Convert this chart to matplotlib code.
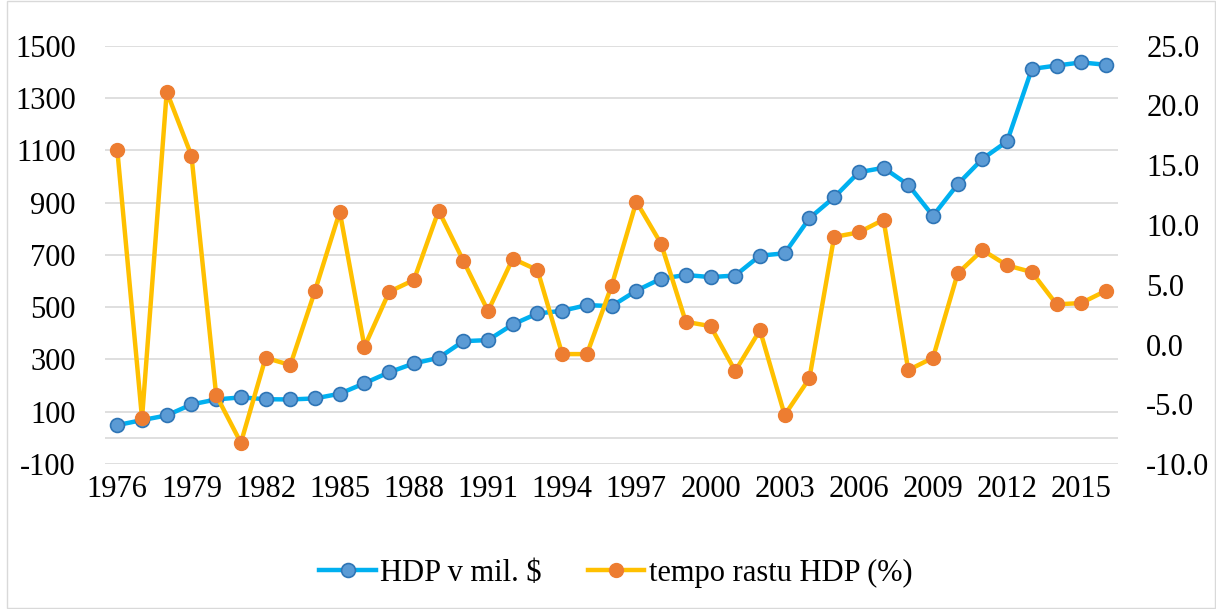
import matplotlib
matplotlib.use("Agg")
import matplotlib.pyplot as plt
from matplotlib.patches import Rectangle

years = list(range(1976, 2017))
hdp = [49, 68, 86, 128, 147, 155, 148, 147, 151, 169,
       209, 251, 285, 306, 370, 374, 434, 476, 486, 508,
       504, 563, 609, 623, 615, 621, 697, 706, 840, 920,
       1016, 1033, 968, 849, 970, 1067, 1134, 1411, 1424, 1436,
       1427]
tempo = [16.27, -6.18, 21.15, 15.8, -4.23, -8.22, -1.11, -1.72, 4.5, 11.11,
         -0.19, 4.41, 5.4, 11.2, 7.01, 2.8, 7.18, 6.23, -0.8, -0.8,
         4.92, 11.95, 8.43, 1.9, 1.54, -2.22, 1.21, -5.9, -2.83, 9.0,
         9.38, 10.44, -2.14, -1.11, 5.95, 7.9, 6.62, 6.06, 3.36, 3.47,
         4.5]
left_ticks = [-100, 100, 300, 500, 700, 900, 1100, 1300, 1500]
right_ticks = [-10, -5, 0, 5, 10, 15, 20, 25]
xtick_years = list(range(1976, 2017, 3))
labels = ["HDP v mil. $", "tempo rastu HDP (%)"]

plt.rcParams['font.family'] = ['Liberation Serif', 'DejaVu Serif']

fig = plt.figure(figsize=(12.16, 6.09), dpi=100)
fig.patches.append(Rectangle((0.006, 0.001), 0.993, 0.997, transform=fig.transFigure,
                             fill=False, edgecolor='#D9D9D9', linewidth=1))
ax = fig.add_axes([0.0863, 0.238, 0.8334, 0.687])
ax2 = ax.twinx()

for g in left_ticks:
    ax.axhline(g, color='#D9D9D9', lw=1.2, zorder=0)
ax.axhline(0, color='#D9D9D9', lw=1.2, zorder=0)

l1, = ax.plot(years, hdp, color='#00B0F0', lw=3.2, marker='o', markersize=10,
              markerfacecolor='#5B9BD5', markeredgecolor='#2E75B6', markeredgewidth=1.2,
              label=labels[0], zorder=3)
l2, = ax2.plot(years, tempo, color='#FFC000', lw=3.2, marker='o', markersize=10,
               markerfacecolor='#ED7D31', markeredgecolor='#ED7D31', markeredgewidth=1,
               label=labels[1], zorder=3)

ax.set_xlim(1975.5, 2016.5)
ax.set_ylim(-100, 1500)
ax2.set_ylim(-10, 25)
ax.set_yticks(left_ticks)
ax.set_yticklabels([str(t) for t in left_ticks])
ax2.set_yticks(right_ticks)
ax2.set_yticklabels([f"{t:.1f}" for t in right_ticks])
ax.set_xticks(xtick_years)
ax.set_xticklabels([str(y) for y in xtick_years])

for a in (ax, ax2):
    for s in a.spines.values():
        s.set_visible(False)
    a.tick_params(length=0, labelsize=22, colors='black')
ax.tick_params(axis='y', pad=21)
ax2.tick_params(axis='y', pad=20)
ax.tick_params(axis='x', pad=8)

fig.legend([l1, l2], labels, loc='center', bbox_to_anchor=(0.5066, 0.059), ncol=2,
           frameon=False, fontsize=22, handlelength=1.85, columnspacing=1.5,
           handletextpad=0.15, borderaxespad=0, borderpad=0)

fig.savefig('out.png', dpi=100)
